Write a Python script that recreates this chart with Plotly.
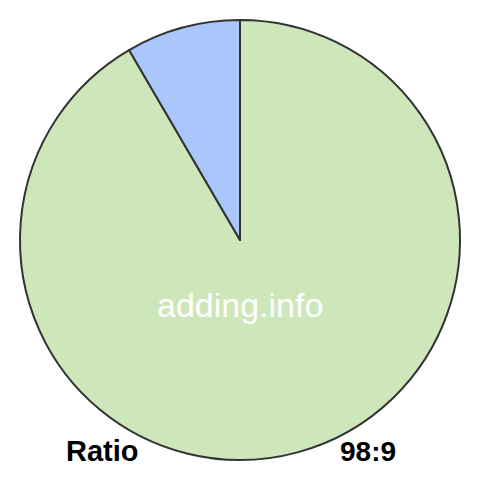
import plotly.graph_objects as go

# Ratio 98:9
labels = ["98", "9"]
values = [98, 9]
colors = ["#CEE7BA", "#A9C7FB"]

W = 480
OFF = 8  # page body margin in the browser


def px_x(x):
    return (x - OFF) / W


def px_y(y):
    return 1 - (y - OFF) / W


fig = go.Figure(
    go.Pie(
        labels=labels,
        values=values,
        sort=False,
        direction="clockwise",
        rotation=0,
        textinfo="none",
        hoverinfo="label+value",
        marker=dict(colors=colors, line=dict(color="#333333", width=2)),
        domain=dict(x=[px_x(20), px_x(460)], y=[px_y(460), px_y(20)]),
        showlegend=False,
    )
)

fig.add_annotation(
    x=px_x(240), y=px_y(305), xref="paper", yref="paper",
    xanchor="center", yanchor="middle",
    text="adding.info", showarrow=False,
    font=dict(family="Liberation Sans, Arial", size=34, color="white"),
)
fig.add_annotation(
    x=px_x(102), y=px_y(451), xref="paper", yref="paper",
    xanchor="center", yanchor="middle",
    text="<b>Ratio</b>", showarrow=False,
    font=dict(family="Liberation Sans, Arial", size=29, color="black"),
)
fig.add_annotation(
    x=px_x(368), y=px_y(451), xref="paper", yref="paper",
    xanchor="center", yanchor="middle",
    text="<b>98:9</b>", showarrow=False,
    font=dict(family="Liberation Sans, Arial", size=28, color="black"),
)

fig.update_layout(
    width=W,
    height=W,
    margin=dict(l=0, r=0, t=0, b=0),
    paper_bgcolor="white",
    plot_bgcolor="white",
)

fig.write_html("out.html")
